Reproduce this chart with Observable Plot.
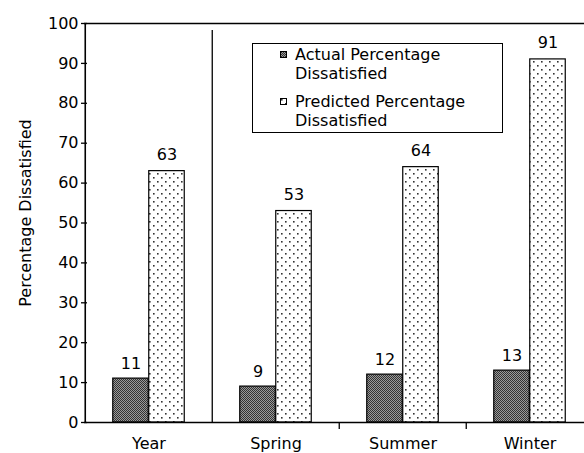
<!DOCTYPE html>
<html>
<head>
<meta charset="utf-8">
<script src="https://cdn.jsdelivr.net/npm/d3@7"></script>
<script src="https://cdn.jsdelivr.net/npm/@observablehq/plot@0.6"></script>
<style>
  body { margin: 0; background: #fff; }
  #wrap { position: relative; width: 584px; height: 453px; overflow: hidden; font-family: "DejaVu Sans", sans-serif; }
  #legend { position: absolute; left: 252px; top: 43px; width: 249px; height: 88px; border: 1.5px solid #000; background: #fff; font-size: 16px; color: #000; }
  .item { position: absolute; left: 27px; line-height: 19px; white-space: nowrap; }
  .item svg { position: absolute; left: 0; top: 6px; }
  .item span { display: block; margin-left: 15px; }
</style>
</head>
<body>
<div id="wrap"></div>
<script>
const categories = ["Year", "Spring", "Summer", "Winter"];
const actual = [11, 9, 12, 13];
const predicted = [63, 53, 64, 91];
const seriesNames = ["Actual Percentage Dissatisfied", "Predicted Percentage Dissatisfied"];
const yTicks = [0, 10, 20, 30, 40, 50, 60, 70, 80, 90, 100];
const yLabel = "Percentage Dissatisfied";

const W = 584, H = 453, mL = 84, mR = -10, mT = 23, mB = 31;
const band = (W - mR - mL) / categories.length;
const half = band / 2;
const barW = 36;
const outer = half - barW;

const rowsA = categories.map((c, i) => ({cat: c, value: actual[i]}));
const rowsP = categories.map((c, i) => ({cat: c, value: predicted[i]}));

const chart = Plot.plot({
  width: W, height: H,
  marginLeft: mL, marginRight: mR, marginTop: mT, marginBottom: mB,
  style: {fontFamily: "'DejaVu Sans', sans-serif", fontSize: "16px", background: "transparent", overflow: "visible", color: "#000"},
  x: {domain: categories, padding: 0, label: null},
  y: {domain: [0, 100], label: null},
  marks: [
    Plot.barY(rowsA, {x: "cat", y: "value", fill: "url(#densePat)", stroke: "#000", strokeWidth: 1.2, insetLeft: outer, insetRight: half}),
    Plot.barY(rowsP, {x: "cat", y: "value", fill: "url(#sparsePat)", stroke: "#000", strokeWidth: 1.2, insetLeft: half, insetRight: outer}),
    Plot.text(rowsA, {x: "cat", y: "value", text: d => String(d.value), dx: -barW / 2, dy: -10, lineAnchor: "bottom", fontSize: 16}),
    Plot.text(rowsP, {x: "cat", y: "value", text: d => String(d.value), dx: barW / 2, dy: -11, lineAnchor: "bottom", fontSize: 16}),
    // frame lines
    Plot.ruleY([0], {stroke: "#000", strokeWidth: 1.6}),
    Plot.ruleY([100], {stroke: "#000", strokeWidth: 1.6}),
    Plot.ruleX([categories[0]], {x: d => d, dx: -half, y1: 0, y2: 100, stroke: "#000", strokeWidth: 1.6}),
    Plot.ruleX([categories[1]], {x: d => d, dx: -half, y1: 0, y2: 100, insetBottom: -7, stroke: "#000", strokeWidth: 1.3}),
    Plot.ruleX(categories.slice(2), {x: d => d, dx: -half, y1: 0, y2: 0, insetBottom: -7, stroke: "#000", strokeWidth: 1.3}),
    Plot.axisY({ticks: yTicks, tickSize: 6, dx: 3, tickPadding: 3, fontSize: 16, strokeWidth: 1.3}),
    Plot.axisX({tickSize: 0, tickPadding: 15, fontSize: 16}),
    Plot.text([yLabel], {frameAnchor: "left", textAnchor: "middle", rotate: -90, dx: -59, dy: -10, fontSize: 16})
  ]
});

const defs = `
<defs>
  <pattern id="densePat" width="2" height="2" patternUnits="userSpaceOnUse">
    <rect width="2" height="2" fill="#9a9a9a"/>
    <rect x="0" y="0" width="1" height="1" fill="#333"/>
    <rect x="1" y="1" width="1" height="1" fill="#333"/>
  </pattern>
  <pattern id="sparsePat" width="8" height="8" patternUnits="userSpaceOnUse">
    <rect width="8" height="8" fill="#fff"/>
    <rect x="1" y="1" width="1.6" height="1.6" fill="#333"/>
    <rect x="5" y="5" width="1.6" height="1.6" fill="#333"/>
  </pattern>
</defs>`;
chart.insertAdjacentHTML("afterbegin", defs);
chart.style.position = "absolute";
chart.style.left = "0";
chart.style.top = "0";
document.getElementById("wrap").appendChild(chart);

const legend = document.createElement("div");
legend.id = "legend";
const tops = [1, 48];
const pats = ["densePat", "sparsePat"];
seriesNames.forEach((name, i) => {
  const words = name.split(" ");
  const item = document.createElement("div");
  item.className = "item";
  item.style.top = tops[i] + "px";
  item.innerHTML = `<svg width="8" height="8"><rect x="0.5" y="0.5" width="6" height="6" fill="url(#${pats[i]})" stroke="#000"/></svg><span>${words.slice(0, 2).join(" ")}</span><span>${words.slice(2).join(" ")}</span>`;
  legend.appendChild(item);
});
document.getElementById("wrap").appendChild(legend);
</script>
</body>
</html>
